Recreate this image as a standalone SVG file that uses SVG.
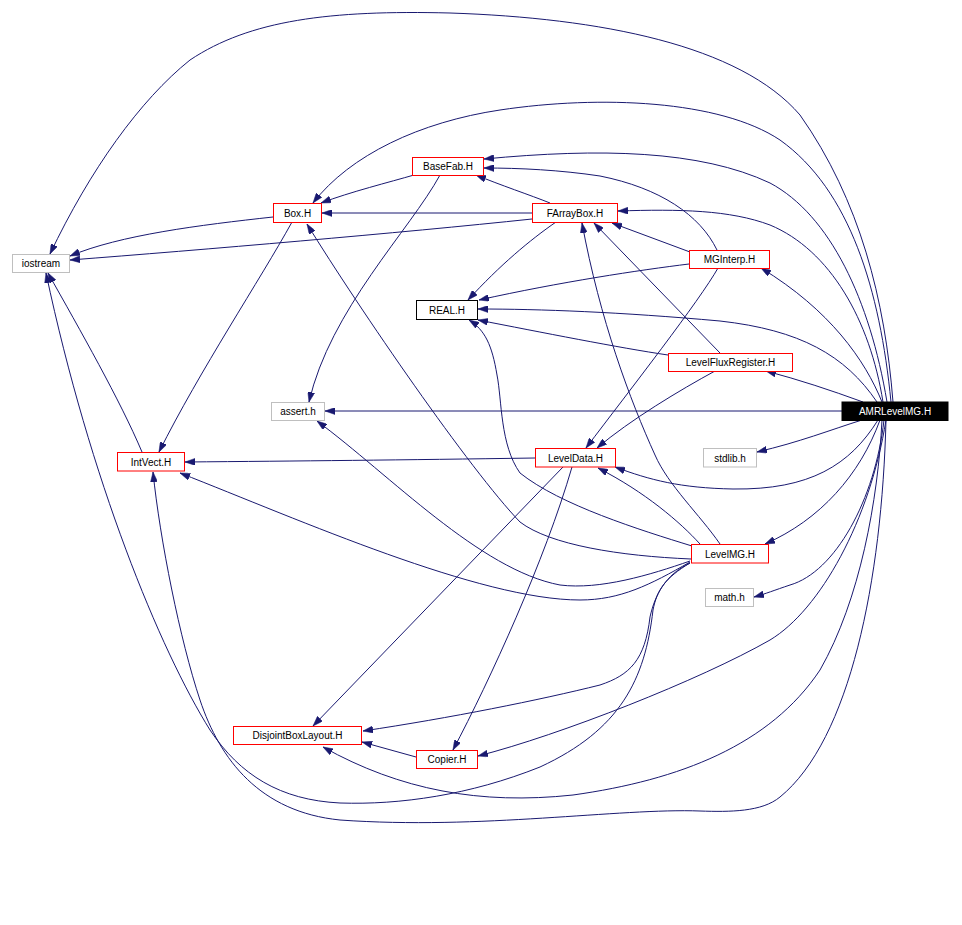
<svg xmlns="http://www.w3.org/2000/svg" width="962" height="925" viewBox="0 0 962 925">
<style>
.n rect{fill:#fff;stroke-width:1}
.r rect{stroke:#ff0000}
.g rect{stroke:#bfbfbf}
.k rect{stroke:#000}
.n text{font-family:"Liberation Sans",Arial,sans-serif;font-size:10px;text-anchor:middle;fill:#000}
#edges path{fill:none;stroke:#191970;stroke-width:1;marker-end:url(#ah)}
</style>
<defs>
<marker id="ah" markerUnits="userSpaceOnUse" markerWidth="10" markerHeight="7" refX="10" refY="3.5" orient="auto">
<path d="M0,0 L10,3.5 L0,7 z" fill="#191970" stroke="#191970" stroke-width="0.5"/>
</marker>
</defs>
<rect width="962" height="925" fill="#fff"/>
<g id="edges">
<path d="M893,402 C885,300 860,200 800,115 C740,45 600,18 450,13 C330,10 250,20 190,60 C140,100 90,170 50,254"/>
<path d="M891,402 C880,290 850,190 780,140 C720,100 600,95 500,110 C420,122 350,155 313,203"/>
<path d="M887,402 C870,300 830,215 770,183 C700,150 600,148 484,159"/>
<path d="M883,402 C870,320 830,250 770,225 C730,210 680,209 618,211"/>
<path d="M882,402 C865,360 830,310 761,268"/>
<path d="M877,402 C845,355 800,330 720,321 C620,312 540,309 478,309"/>
<path d="M863,402 C830,390 800,380 766,371"/>
<path d="M842,411 L325,411"/>
<path d="M862,420 C830,430 800,442 757,452"/>
<path d="M878,420 C850,465 810,490 733,489 C680,488 650,480 615,467"/>
<path d="M880,420 C860,475 820,520 765,544"/>
<path d="M884,420 C875,500 835,572 790,585 C775,590 765,594 754,597"/>
<path d="M886,420 C870,520 820,610 770,640 C700,680 560,735 478,756"/>
<path d="M882,420 C878,500 860,600 820,670 C770,745 680,780 573,795 C480,805 400,790 323,747"/>
<path d="M886,420 C882,580 850,740 780,797 C762,812 730,812 700,811 C620,808 480,830 340,820 C260,812 220,760 200,700 C180,640 160,540 153,472"/>
<path d="M700,544 C680,522 645,492 598,468"/>
<path d="M720,544 C700,515 668,485 655,455 C630,400 600,320 582,223"/>
<path d="M692,546 C640,530 560,505 520,473 C500,445 502,400 497,375 C492,345 485,330 469,320"/>
<path d="M691,559 C620,556 550,545 520,522 C470,470 360,310 307,224"/>
<path d="M690,561 C650,575 600,590 560,585 C480,570 390,475 317,421"/>
<path d="M690,562 C650,585 620,600 580,600 C480,600 300,520 180,473"/>
<path d="M690,563 C665,575 655,595 650,617 C645,660 630,675 600,685 C540,700 450,718 363,731"/>
<path d="M690,563 C665,578 657,590 653,610 C645,680 620,730 540,767 C470,795 400,805 340,803 C280,800 240,775 210,730 C160,650 90,480 46,273"/>
<path d="M535,458 C400,460 300,461 185,462"/>
<path d="M563,467 L313,726"/>
<path d="M572,467 C545,560 490,680 453,750"/>
<path d="M532,213 L322,213"/>
<path d="M532,219 C400,233 200,250 70,260"/>
<path d="M550,203 C530,195 500,185 476,175"/>
<path d="M556,222 C530,240 500,265 468,300"/>
<path d="M690,252 L612,223"/>
<path d="M689,264 C640,270 560,282 479,300"/>
<path d="M718,268 C700,300 630,390 586,448"/>
<path d="M717,250 C700,215 660,188 600,176 C560,170 520,168 484,168"/>
<path d="M668,355 C620,348 540,332 478,320"/>
<path d="M715,371 C680,390 630,420 597,448"/>
<path d="M720,353 L594,223"/>
<path d="M414,175 C390,182 350,192 321,203"/>
<path d="M440,175 C410,230 330,310 309,402"/>
<path d="M273,217 C200,225 120,235 70,256"/>
<path d="M292,222 C260,280 200,370 159,452"/>
<path d="M142,452 C120,400 80,330 48,273"/>
<path d="M416,757 L362,742"/>
</g>
<g id="iostream" class="n g"><rect x="12.5" y="254.5" width="57" height="18"/><text x="41" y="267">iostream</text></g>
<g id="Box_H" class="n r"><rect x="273.5" y="203.5" width="48" height="19"/><text x="297.5" y="217">Box.H</text></g>
<g id="BaseFab_H" class="n r"><rect x="412.5" y="157.5" width="71" height="18"/><text x="448" y="170">BaseFab.H</text></g>
<g id="FArrayBox_H" class="n r"><rect x="532.5" y="203.5" width="85" height="19"/><text x="575" y="217">FArrayBox.H</text></g>
<g id="MGInterp_H" class="n r"><rect x="689.5" y="250.5" width="80" height="18"/><text x="729.5" y="263">MGInterp.H</text></g>
<g id="REAL_H" class="n k"><rect x="416.5" y="300.5" width="61" height="19"/><text x="447" y="314">REAL.H</text></g>
<g id="LevelFluxRegister_H" class="n r"><rect x="668.5" y="353.5" width="124" height="18"/><text x="730.5" y="366">LevelFluxRegister.H</text></g>
<g id="assert_h" class="n g"><rect x="271.5" y="402.5" width="53" height="18"/><text x="298" y="415">assert.h</text></g>
<g id="AMRLevelMG_H" class="n"><rect x="842" y="402" width="106" height="18.5" fill="#000" stroke="#000" style="fill:#000"/><text x="895" y="415" style="fill:#fff">AMRLevelMG.H</text></g>
<g id="IntVect_H" class="n r"><rect x="117.5" y="452.5" width="67" height="18.5"/><text x="151" y="466">IntVect.H</text></g>
<g id="LevelData_H" class="n r"><rect x="535.5" y="448.5" width="80" height="18.5"/><text x="575.5" y="462">LevelData.H</text></g>
<g id="stdlib_h" class="n g"><rect x="703.5" y="448.5" width="53" height="18.5"/><text x="730" y="462">stdlib.h</text></g>
<g id="LevelMG_H" class="n r"><rect x="691.5" y="544.5" width="77" height="18.5"/><text x="730" y="558">LevelMG.H</text></g>
<g id="math_h" class="n g"><rect x="705.5" y="588.5" width="48" height="18"/><text x="729.5" y="601">math.h</text></g>
<g id="DisjointBoxLayout_H" class="n r"><rect x="233.5" y="726.5" width="128" height="18"/><text x="297.5" y="739">DisjointBoxLayout.H</text></g>
<g id="Copier_H" class="n r"><rect x="416.5" y="750.5" width="61" height="18"/><text x="447" y="763">Copier.H</text></g>
</svg>
